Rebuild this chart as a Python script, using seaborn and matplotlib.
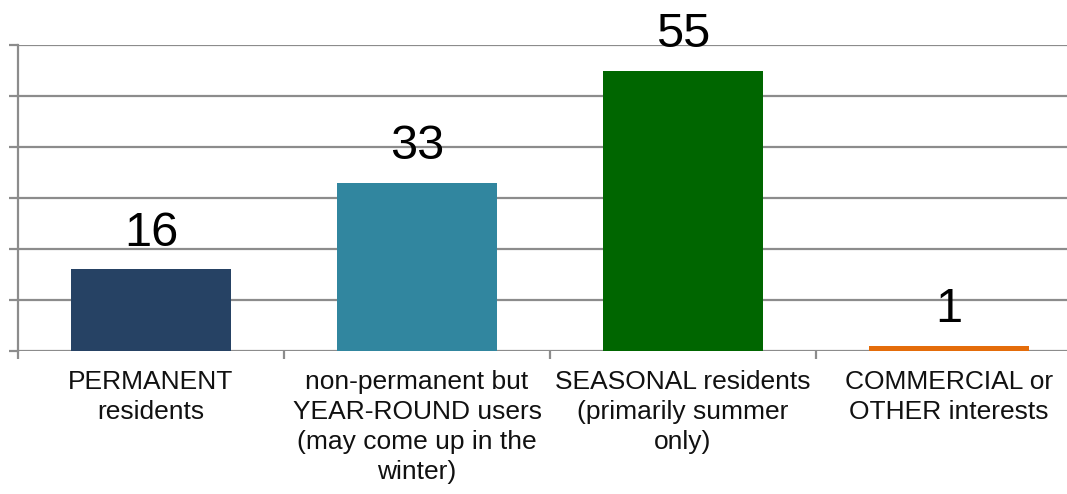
import matplotlib
matplotlib.use("Agg")
import matplotlib.pyplot as plt
import seaborn as sns
import pandas as pd

categories = [
    "PERMANENT\nresidents",
    "non-permanent but\nYEAR-ROUND users\n(may come up in the\nwinter)",
    "SEASONAL residents\n(primarily summer\nonly)",
    "COMMERCIAL or\nOTHER interests",
]
values = [16, 33, 55, 1]
colors = ["#264264", "#31869F", "#006600", "#E46C0A"]

sns.set_theme(style="white")
plt.rcParams["font.family"] = ["Liberation Sans", "DejaVu Sans"]

df = pd.DataFrame({"cat": categories, "val": values})

fig = plt.figure(figsize=(10.67, 4.94), dpi=100)
ax = fig.add_axes([18 / 1067, (494 - 351) / 494, 1064 / 1067, 306 / 494])

sns.barplot(data=df, x="cat", y="val", hue="cat", palette=colors, legend=False,
            width=0.6, saturation=1, linewidth=0, ax=ax, zorder=3)

grid_c = "#8C8C8C"
ax.set_ylim(0, 60)
ax.set_xlim(-0.5, 3.5)
ax.set_yticks(range(0, 61, 10))
ax.set_yticklabels([])
ax.yaxis.grid(True, color=grid_c, linewidth=1.6, zorder=0)
ax.set_axisbelow(True)
for s in ["top", "right", "bottom"]:
    ax.spines[s].set_visible(False)
ax.spines["left"].set_color(grid_c)
ax.spines["left"].set_linewidth(1.6)
ax.tick_params(axis="y", which="major", left=True, length=6.5, width=1.6,
               color=grid_c, direction="out", pad=0)

ax.set_xticks(range(len(categories)))
ax.set_xticklabels(categories, fontsize=19, color="#111111", linespacing=1.31)
ax.set_xticks([-0.5, 0.5, 1.5, 2.5, 3.5], minor=True)
ax.tick_params(axis="x", which="major", length=0, pad=14)
ax.tick_params(axis="x", which="minor", bottom=True, length=6, width=1.6,
               color=grid_c, direction="out")
ax.set_xlabel("")
ax.set_ylabel("")

for cont in ax.containers:
    ax.bar_label(cont, fontsize=35, color="#000000", padding=10)

fig.savefig("out.png", dpi=100)
